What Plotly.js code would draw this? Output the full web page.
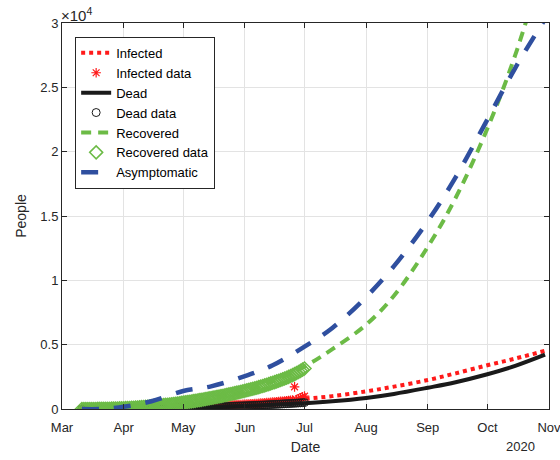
<!DOCTYPE html>
<html>
<head>
<meta charset="utf-8">
<script src="https://cdn.plot.ly/plotly-3.0.1.min.js"></script>
<style>
  html, body { margin: 0; padding: 0; background: #ffffff; }
  #chart { width: 560px; height: 460px; }
</style>
</head>
<body>
<div id="chart"></div>
<script>
// ---- Model curves (sampled dates) ----
const modelDates = ['2020-03-11','2020-03-20','2020-04-01','2020-04-15','2020-05-01','2020-05-15',
  '2020-06-01','2020-06-15','2020-07-01','2020-07-15','2020-08-01','2020-08-15',
  '2020-09-01','2020-09-15','2020-10-01','2020-10-15','2020-10-30'];
const infectedModel = [0, 15, 50, 100, 160, 240, 370, 530, 780, 1000, 1370, 1740, 2250, 2770, 3400, 3920, 4520];
const deadModel = [0, 3, 15, 40, 80, 140, 230, 330, 450, 600, 860, 1170, 1650, 2080, 2700, 3350, 4220];
const recoveredModel = [0, 20, 60, 180, 420, 800, 1400, 2150, 3300, 4650, 6550, 8800, 12600, 16400, 21800, 27500, 35000];
const asymptomaticModel = [0, 0, 170, 600, 1400, 1760, 2550, 3400, 4850, 6300, 8700, 11100, 14600, 18000, 22500, 26500, 30300];

// ---- Observed data (daily, from 2020-03-11 to 2020-07-01) ----
const dataStart = '2020-03-11';
const infectedData = [
  0,1,1,2,3,4,5,6,8,10,12,14,16,19,22,25,28,32,36,40,45,
  49,52,56,60,63,66,70,74,78,81,84,88,92,96,100,103,106,110,114,118,122,125,129,133,137,141,145,149,152,156,
  160,165,170,174,178,183,188,193,198,204,210,216,222,228,234,240,247,254,262,270,278,286,294,302,310,318,327,336,345,355,365,
  372,380,390,400,410,420,432,444,455,468,480,492,505,518,531,545,560,575,590,606,622,640,658,676,700,1720,740,800,870,950,
  1000];
const deadData = [
  0,0,0,0,0,1,1,1,2,2,3,3,4,5,6,7,8,9,10,12,14,
  16,18,20,22,24,26,29,32,35,38,41,44,47,50,53,56,59,62,65,68,71,74,77,80,83,86,89,92,95,98,
  101,104,107,110,114,118,122,126,130,134,138,142,146,150,155,160,165,170,175,180,186,192,198,204,210,216,222,228,234,240,246,
  252,258,264,270,277,284,291,298,305,312,320,328,336,344,352,360,368,376,385,394,403,412,421,430,440,450,460,470,480,490,
  500];
const recoveredData = [
  0,0,1,1,2,3,4,5,7,9,11,13,16,19,22,26,30,35,40,46,52,
  59,66,74,82,91,100,110,120,131,142,154,166,179,192,206,220,235,250,266,282,299,316,334,352,371,390,410,430,451,472,
  494,516,539,562,586,610,635,660,686,712,739,766,794,822,851,880,910,940,971,1002,1034,1066,1099,1132,1166,1200,1235,1270,1306,1342,1379,
  1416,1454,1492,1531,1570,1610,1655,1700,1746,1792,1840,1888,1937,1987,2038,2090,2143,2197,2252,2309,2368,2430,2495,2563,2635,2712,2793,2878,2967,3060,
  3150];

// ---- Axis ticks ----
const monthTicks = ['2020-03-01','2020-04-01','2020-05-01','2020-06-01','2020-07-01','2020-08-01','2020-09-01','2020-10-01','2020-11-01'];
const monthLabels = ['Mar','Apr','May','Jun','Jul','Aug','Sep','Oct','Nov'];
const yTickVals = [0, 5000, 10000, 15000, 20000, 25000, 30000];
const yTickLabels = ['0','0.5','1','1.5','2','2.5','3'];

function dailyDates(start, n) {
  const out = [];
  const d0 = new Date(start + 'T00:00:00Z');
  for (let i = 0; i < n; i++) {
    const d = new Date(d0.getTime() + i * 86400000);
    out.push(d.toISOString().slice(0, 10));
  }
  return out;
}
const dataDates = dailyDates(dataStart, infectedData.length);

const FONT = 'Liberation Sans, Arial, Helvetica, sans-serif';
const AX = '#262626';
const RED = '#ff1a1a';
const BLACK = '#1a1a1a';
const GREEN = '#6cbb46';
const BLUE = '#2f4f9f';

const traces = [
  { x: modelDates, y: infectedModel, name: 'Infected', mode: 'lines',
    line: { color: RED, width: 4, dash: '4px,4px', shape: 'spline' } },
  { x: dataDates, y: infectedData, name: 'Infected data', mode: 'markers',
    marker: { color: RED, symbol: 'asterisk-open', size: 8, line: { color: RED, width: 1.2 } } },
  { x: modelDates, y: deadModel, name: 'Dead', mode: 'lines',
    line: { color: BLACK, width: 4, shape: 'spline' } },
  { x: dataDates, y: deadData, name: 'Dead data', mode: 'markers',
    marker: { color: BLACK, symbol: 'circle-open', size: 8, line: { color: BLACK, width: 1 } } },
  { x: modelDates, y: recoveredModel, name: 'Recovered', mode: 'lines',
    line: { color: GREEN, width: 4, dash: '10px,7px', shape: 'spline' } },
  { x: dataDates, y: recoveredData, name: 'Recovered data', mode: 'markers',
    marker: { color: GREEN, symbol: 'diamond-open', size: 10, line: { color: GREEN, width: 1.5 } } },
  { x: modelDates, y: asymptomaticModel, name: 'Asymptomatic', mode: 'lines',
    line: { color: BLUE, width: 4.5, dash: '17px,15px', shape: 'spline' } }
];

const axisCommon = {
  ticks: 'inside', ticklen: 5, tickwidth: 1, tickcolor: AX,
  showline: true, linecolor: AX, linewidth: 1, mirror: 'ticks',
  showgrid: true, gridcolor: '#e3e3e3', gridwidth: 1, zeroline: false,
  tickfont: { family: FONT, size: 13, color: AX }
};

const layout = {
  width: 560, height: 460,
  margin: { l: 62, r: 11, t: 23, b: 51 },
  paper_bgcolor: '#ffffff', plot_bgcolor: '#ffffff',
  font: { family: FONT, size: 13, color: AX },
  showlegend: true,
  legend: {
    x: 0.027, y: 0.964, xanchor: 'left', yanchor: 'top',
    bgcolor: '#ffffff', bordercolor: AX, borderwidth: 1,
    font: { family: FONT, size: 13, color: '#000000' },
    tracegroupgap: 0
  },
  xaxis: Object.assign({}, axisCommon, {
    type: 'date', range: ['2020-03-01', '2020-11-01'],
    tickmode: 'array', tickvals: monthTicks, ticktext: monthLabels,
    ticklabeloverflow: 'allow', ticklabelstandoff: 6,
    title: { text: 'Date', font: { family: FONT, size: 14, color: AX }, standoff: 8 }
  }),
  yaxis: Object.assign({}, axisCommon, {
    range: [0, 30000],
    tickmode: 'array', tickvals: yTickVals, ticktext: yTickLabels,
    title: { text: 'People', font: { family: FONT, size: 14, color: AX }, standoff: 10 }
  }),
  annotations: [
    { text: '\u00d710<sup>4</sup>', xref: 'paper', yref: 'paper', x: 0, y: 1,
      xanchor: 'left', yanchor: 'bottom', showarrow: false, xshift: -3, yshift: -3,
      font: { family: FONT, size: 15, color: AX } },
    { text: '2020', xref: 'paper', yref: 'paper', x: 0.9425, y: -0.098,
      xanchor: 'center', yanchor: 'middle', showarrow: false,
      font: { family: FONT, size: 13, color: AX } }
  ]
};

Plotly.newPlot('chart', traces, layout, { displayModeBar: false, staticPlot: true });
</script>
</body>
</html>
